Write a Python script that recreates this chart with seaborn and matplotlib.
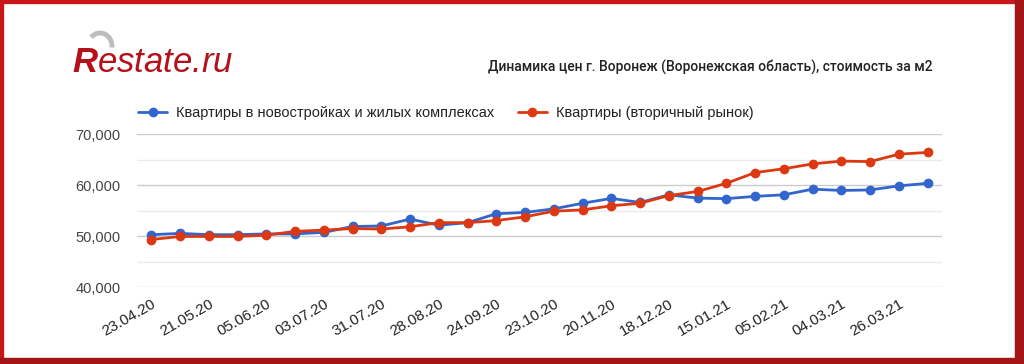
import numpy as np
import pandas as pd
import matplotlib
matplotlib.use("Agg")
import matplotlib.pyplot as plt
import matplotlib.patches as mpatches
from matplotlib.ticker import FuncFormatter, MultipleLocator
import seaborn as sns

# values (rub per m2), one point roughly every two weeks
new_build = [50300, 50550, 50300, 50300, 50450, 50450, 50750, 51900, 52000, 53350,
             52150, 52650, 54400, 54650, 55350, 56450, 57400, 56600, 58100, 57450,
             57350, 57800, 58100, 59200, 58950, 59050, 59850, 60350]
resale = [49350, 49950, 49950, 49950, 50200, 50950, 51200, 51500, 51400, 51850,
          52650, 52650, 53050, 53800, 54900, 55150, 55950, 56450, 57950, 58750,
          60350, 62450, 63200, 64150, 64700, 64600, 66050, 66400]
tick_labels = ["23.04.20", "21.05.20", "05.06.20", "03.07.20", "31.07.20", "28.08.20",
               "24.09.20", "23.10.20", "20.11.20", "18.12.20", "15.01.21", "05.02.21",
               "04.03.21", "26.03.21"]
series_names = ["Квартиры в новостройках и жилых комплексах", "Квартиры (вторичный рынок)"]

sns.set_theme(style="white")
plt.rcParams["font.family"] = ["Liberation Sans", "DejaVu Sans"]
plt.rcParams["mathtext.fontset"] = "custom"
plt.rcParams["mathtext.bf"] = "Liberation Sans:italic:bold"

n = len(new_build)
df = pd.DataFrame({
    "idx": list(range(n)) * 2,
    "price": new_build + resale,
    "series": [series_names[0]] * n + [series_names[1]] * n,
})

fig = plt.figure(figsize=(10.24, 3.64), dpi=100)
fig.patch.set_facecolor("white")
ax = fig.add_axes([137 / 1024, 1 - 287.3 / 364, 805 / 1024, 153.3 / 364])

sns.lineplot(data=df, x="idx", y="price", hue="series",
             palette=["#3366cc", "#dc3912"], marker="o", markersize=7,
             markeredgewidth=0, linewidth=2, ax=ax, legend=True)

ax.set_xlim(-0.5, n - 0.5)
ax.set_ylim(40000, 70000)
ax.yaxis.set_major_locator(MultipleLocator(10000))
ax.yaxis.set_minor_locator(MultipleLocator(5000))
ax.yaxis.set_major_formatter(FuncFormatter(lambda v, p: f"{int(v):,}"))
ax.grid(which="major", axis="y", color="#cccccc", linewidth=1)
ax.grid(which="minor", axis="y", color="#ebebeb", linewidth=1)
ax.set_axisbelow(True)
for s in ax.spines.values():
    s.set_visible(False)

ax.set_xticks(list(range(0, 2 * len(tick_labels), 2)))
ax.set_xticklabels(tick_labels, rotation=30, ha="right", rotation_mode="anchor")
ax.tick_params(axis="x", length=0, pad=7, labelsize=11, labelcolor="#222222")
ax.tick_params(axis="y", length=0, pad=12, labelsize=10.5, labelcolor="#444444")
ax.tick_params(axis="y", which="minor", length=0)
ax.set_xlabel("")
ax.set_ylabel("")

handles, labels = ax.get_legend_handles_labels()
ax.legend(handles, labels, loc="center left", bbox_to_anchor=(125 / 1024, 1 - 113 / 364),
          bbox_transform=fig.transFigure, ncol=2, frameon=False, fontsize=10.5,
          handlelength=2.0, handletextpad=0.6, columnspacing=1.6, labelcolor="#222222")

# logo
fig.text(72 / 1024, 1 - 72 / 364, r"$\mathbf{R}$estate.ru", fontsize=25, style="italic",
         color="#b3121b", ha="left", va="baseline")
fig.patches.append(mpatches.Arc((100 / 1024, 1 - 46 / 364), 24 / 1024, 26 / 364,
                                theta1=-20, theta2=110, color="#bdbdbd", lw=3.5,
                                transform=fig.transFigure))

# title
fig.text(933 / 1024, 1 - 67 / 364,
         "Динамика цен г. Воронеж (Воронежская область), стоимость за м2",
         fontsize=10, fontweight="medium", color="#222222", ha="right", va="center",
         family=["Roboto", "DejaVu Sans"])

# red frame
fig.patches.append(mpatches.Rectangle((0, 0), 1, 1, fill=False, edgecolor="#c8161b",
                                      linewidth=6, transform=fig.transFigure))
fig.patches.append(mpatches.Rectangle((1015 / 1024, 0), 9 / 1024, 1, color="#a31414",
                                      transform=fig.transFigure))
fig.patches.append(mpatches.Rectangle((0, 0), 1, 6 / 364, color="#a31414",
                                      transform=fig.transFigure))

fig.savefig("out.png", dpi=100)
